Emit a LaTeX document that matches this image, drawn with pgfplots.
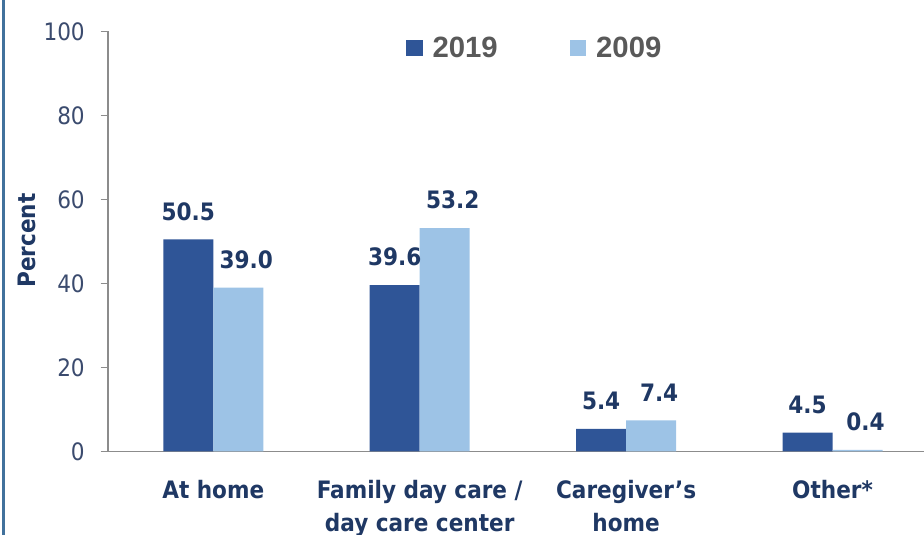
\documentclass[border=0pt]{standalone}
\usepackage{fontspec}
\setmainfont{DejaVu Sans Condensed}
\newfontfamily\legfont{Liberation Sans}
\usepackage{pgfplots}
\pgfplotsset{compat=1.18}
\definecolor{dkblue}{HTML}{2F5597}
\definecolor{ltblue}{HTML}{9DC3E6}
\definecolor{navy}{HTML}{1F3864}
\definecolor{tickc}{HTML}{3B4B6E}
\definecolor{axgray}{HTML}{8C8C8C}
\definecolor{bordc}{HTML}{41719C}
\definecolor{legtext}{HTML}{595959}
\begin{document}
\begin{tikzpicture}
\begin{axis}[
  name=ax,
  scale only axis, width=612pt, height=315pt,
  ymin=0, ymax=100, ytick={0,20,...,100},
  xmin=-0.51, xmax=3.443,
  xtick={0,1,2,3},
  xticklabels={At home, Family day care /\\day care center, Caregiver's\\home, Other*},
  ybar=0pt, bar width=37.5pt,
  axis x line*=bottom, axis y line*=left,
  axis line style={axgray, line width=1.2pt, -},
  tick align=outside,
  major tick length=5.5pt,
  ytick style={axgray, line width=1.2pt},
  xtick style={draw=none},
  /pgf/number format/assume math mode=true,
  yticklabel style={font=\fontsize{18}{20}\selectfont, text=tickc, inner sep=0pt, xshift=-11.75pt},
  xticklabel style={font=\fontsize{18}{24.75}\selectfont\bfseries, text=navy, align=center, anchor=north, inner sep=0pt, yshift=-16pt},
  ylabel={Percent},
  every axis y label/.style={at={(axis description cs:-0.0993,0.502)}, rotate=90, anchor=center, font=\fontsize{18}{20}\selectfont\bfseries, text=navy},
  clip=false,
  nodes near coords, point meta=explicit symbolic,
  every node near coord/.append style={font=\fontsize{18}{20}\selectfont\bfseries, text=navy, inner sep=0pt, anchor=south, yshift=14pt},
  legend image code/.code={\fill[#1,draw=none] (0pt,-5.8pt) rectangle (12.3pt,5.8pt); \path (19.8pt,0pt);},
  legend columns=2,
  legend style={draw=none, fill=none, at={(axis description cs:0.365,0.961)}, anchor=west, inner sep=0pt,
    nodes={inner sep=0pt},
    font={\fontsize{22}{24}\legfont\bfseries}, text=legtext,
    /tikz/every even column/.append style={column sep=54pt}},
]
\addplot[fill=dkblue, draw=none] coordinates {(0,50.5) [50.5] (1,39.6) [39.6] (2,5.4) [5.4] (3,4.5) [4.5]};
\addplot[fill=ltblue, draw=none, every node near coord/.append style={xshift=6pt}] coordinates {(0,39.0) [39.0] (1,53.2) [53.2] (2,7.4) [7.4] (3,0.4) [0.4]};
\legend{2019,2009}
\end{axis}
\pgfresetboundingbox
\path[use as bounding box] ([shift={(-81pt,-62.6pt)}]ax.south west) rectangle ([shift={(0pt,23.6pt)}]ax.north east);
\draw[bordc, line width=2.3pt] ([shift={(-78.5pt,-62.6pt)}]ax.south west) -- ([shift={(-78.5pt,23.6pt)}]ax.north west);
\end{tikzpicture}
\end{document}
